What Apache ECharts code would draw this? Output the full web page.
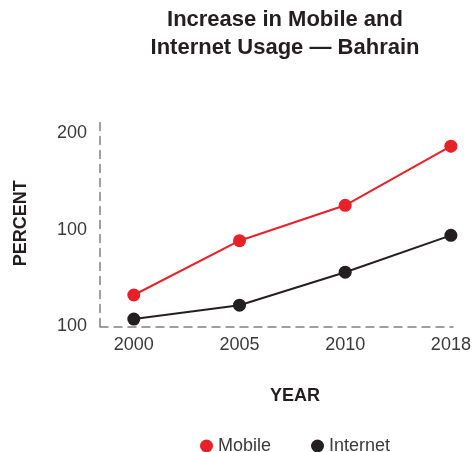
<!DOCTYPE html>
<html><head><meta charset="utf-8">
<script src="https://cdn.jsdelivr.net/npm/echarts@6/dist/echarts.min.js"></script>
<style>html,body{margin:0;padding:0;background:#fff}#c{width:474px;height:452px}</style>
</head><body><div id="c"></div>
<script>
const years = ['2000', '2005', '2010', '2018'];
const mobile = [32.5, 88.5, 125, 186];
const internet = [7.7, 22, 56, 94];
const yTickValues = [0, 100, 200];
const yTickLabels = ['100', '100', '200'];
const titleText = 'Increase in Mobile and\nInternet Usage \u2014 Bahrain';

const FONT = '"Liberation Sans", Arial, Helvetica, sans-serif';
const chart = echarts.init(document.getElementById('c'));
const toPairs = arr => arr.map((v, i) => [i, v]);
chart.setOption({
  animation: false,
  graphic: [{
    type: 'text', x: 285, y: 6,
    style: { text: titleText, align: 'center',
      font: 'bold 22px ' + FONT, fill: '#231f20', lineHeight: 28 }
  }, {
    type: 'text', x: 295, y: 396,
    style: { text: 'YEAR', align: 'center', verticalAlign: 'middle',
      font: 'bold 18px ' + FONT, fill: '#231f20' }
  }],
  grid: { left: 100, right: 21, top: 120, bottom: 125.5 },
  xAxis: {
    type: 'value', min: -0.32, max: 3.02,
    axisLine: { show: true, onZero: false, lineStyle: { color: '#808080', width: 1.5, type: [8, 6] } },
    axisTick: { show: false },
    splitLine: { show: false },
    axisLabel: {
      customValues: [0, 1, 2, 3], margin: 10,
      formatter: v => years[Math.round(v)] || '',
      fontFamily: FONT, fontSize: 18, color: '#3a3a3a'
    }
  },
  yAxis: {
    type: 'value', min: 0, max: 213,
    name: 'PERCENT', nameLocation: 'middle', nameGap: 70, nameRotate: 90,
    nameTextStyle: { fontFamily: FONT, fontWeight: 'bold', fontSize: 18, color: '#231f20' },
    axisLine: { show: true, onZero: false, lineStyle: { color: '#808080', width: 1.5, type: [8, 6] } },
    axisTick: { show: false },
    splitLine: { show: false },
    axisLabel: {
      customValues: yTickValues, margin: 13,
      formatter: v => yTickLabels[yTickValues.indexOf(v)] || '',
      fontFamily: FONT, fontSize: 18, color: '#3a3a3a'
    }
  },
  legend: {
    left: 195, top: 432, itemGap: 40, itemWidth: 13, itemHeight: 13,
    icon: 'circle',
    textStyle: { fontFamily: FONT, fontSize: 18, color: '#3a3a3a' },
    data: ['Mobile', 'Internet']
  },
  series: [
    { name: 'Mobile', type: 'line', data: toPairs(mobile), symbol: 'circle', symbolSize: 13,
      clip: false, color: '#e8202a', lineStyle: { width: 2, color: '#e8202a' },
      itemStyle: { color: '#e8202a' } },
    { name: 'Internet', type: 'line', data: toPairs(internet), symbol: 'circle', symbolSize: 13,
      clip: false, color: '#231f20', lineStyle: { width: 2, color: '#231f20' },
      itemStyle: { color: '#231f20' } }
  ]
});
</script></body></html>
